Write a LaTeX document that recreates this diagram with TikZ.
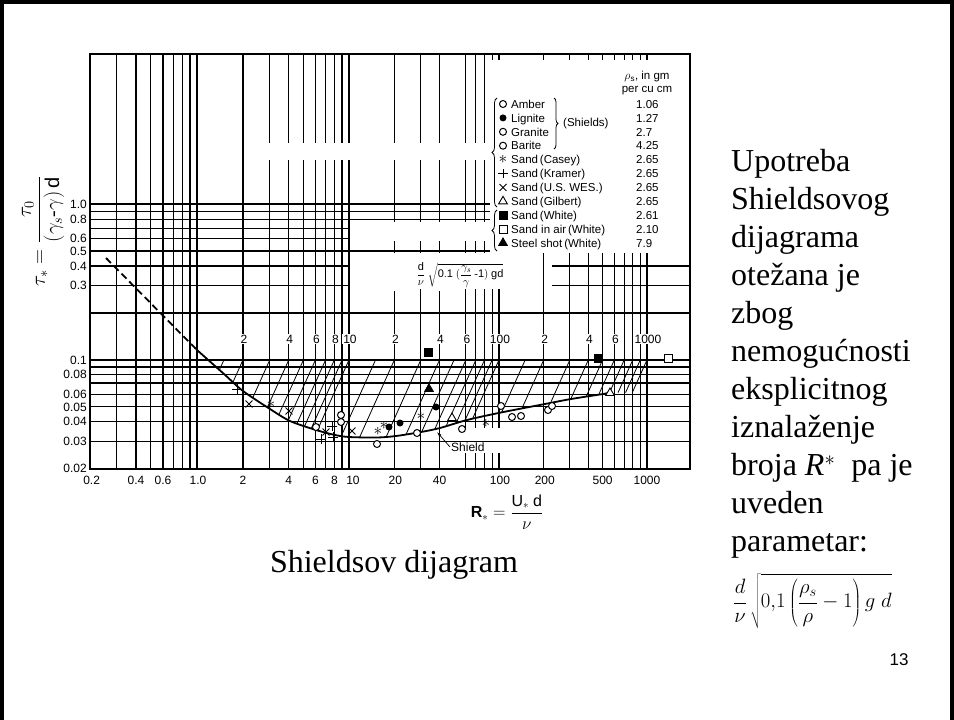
\documentclass[tikz,border=0pt]{standalone}
\usepackage{fontspec}
\setmainfont{Liberation Serif}
\setsansfont{Liberation Sans}
\usetikzlibrary{shapes.geometric,shapes.misc,decorations.pathreplacing,arrows.meta}

%%log scales of the chart, in pixels
\pgfmathdeclarefunction{rx}{1}{\pgfmathparse{197+153*log10(#1)-log10(#1)*log10(#1)}}
\pgfmathdeclarefunction{ty}{1}{\pgfmathparse{204-156*log10(#1)}}

\tikzset{
    gridln/.style={line width=1.2pt},
    hatchln/.style={line width=0.8pt},
    shcurve/.style={line width=1.8pt},
    ticklab/.style={font=\sffamily\fontsize{12}{13}\selectfont, inner sep=1pt},
    leglab/.style={font=\sffamily\fontsize{11.5}{13}\selectfont, inner sep=0pt},
    bodytext/.style={anchor=base west, inner sep=0pt, font=\fontsize{32}{38}\selectfont},
    opn/.style={circle, draw, line width=1pt, fill=white, inner sep=0pt, minimum size=7pt},
    ful/.style={circle, fill, inner sep=0pt, minimum size=7pt},
    crs/.style={cross out, draw, line width=0.9pt, inner sep=0pt, minimum size=6pt},
    pls/.style={crs, rotate=45},
    ast/.style={inner sep=0pt, font=\fontsize{17}{17}\selectfont, execute at begin node=$\ast$},
    tri/.style={regular polygon, regular polygon sides=3, draw, line width=0.9pt, fill=white, inner sep=0pt, minimum size=10pt},
    ftri/.style={tri, fill=black},
    sqr/.style={rectangle, draw, line width=0.9pt, fill=white, inner sep=0pt, minimum size=8pt},
    fsqr/.style={sqr, fill=black}
}

\begin{document}
\begin{tikzpicture}[x=1pt,y=-1pt]
    \useasboundingbox (0,0) rectangle (954,720);
    %%slide border
    \draw[line width=3.5pt] (2,725) to (2,2) to (952,2) to (952,725);

    %%horizontal lines
    \foreach \t in {0.03,0.04,0.05,0.06,0.07,0.08,0.09,0.1,0.2}
        \draw[gridln] (90,{ty(\t)}) to (690,{ty(\t)});
    \foreach \t in {0.3,0.4}{
        \draw[gridln] (90,{ty(\t)}) to (350,{ty(\t)});
        \draw[gridln] (552,{ty(\t)}) to (690,{ty(\t)});
    }
    \foreach \t in {0.5,0.8,0.9,1.0}
        \draw[gridln] (90,{ty(\t)}) to (490,{ty(\t)});
    \foreach \t in {0.6,0.7}
        \draw[gridln] (90,{ty(\t)}) to (348,{ty(\t)});

    %%vertical lines
    \foreach \r in {0.3,0.4,0.5,0.6,0.7,0.8,0.9,1,2}
        \draw[gridln] ({rx(\r)},54) to ({rx(\r)},469);
    \foreach \r in {3,4,5,6,7,8,9,10}{
        \draw[gridln] ({rx(\r)},54) to ({rx(\r)},143);
        \draw[gridln] ({rx(\r)},160) to ({rx(\r)},469);
    }
    \foreach \r in {20,30,40,60,70,80}{
        \draw[gridln] ({rx(\r)},54) to ({rx(\r)},143);
        \draw[gridln] ({rx(\r)},160) to ({rx(\r)},222);
        \draw[gridln] ({rx(\r)},241) to ({rx(\r)},253);
    }
    \foreach \r/\b in {20/291,30/274,40/291}
        \draw[gridln] ({rx(\r)},\b) to ({rx(\r)},469);
    \foreach \r in {60,70,80,90,100}{
        \draw[gridln] ({rx(\r)},280) to ({rx(\r)},428);
        \draw[gridln] ({rx(\r)},453) to ({rx(\r)},469);
    }
    \foreach \r in {90,100,200,300,400,500,600,700,800,900,1000}
        \draw[gridln] ({rx(\r)},54) to ({rx(\r)},60);
    \foreach \r in {200,300,400,500,600,700,800,900,1000}
        \draw[gridln] ({rx(\r)},253) to ({rx(\r)},469);
    \draw[line width=1.5pt] (90,54) rectangle (690,469);

    %%hatching between 0.1 and the curve
    \begin{scope}
        \clip plot[smooth] coordinates {(197,350) (224,374) (243,391) (270,409) (290,421) (316,430) (335,435) (349,437) (377,437.5) (396,436) (421,432) (440,428) (467,420) (501,412.5) (545,404) (571,399) (603,394) (610,392.5)}
            -- (655,392.5) -- (655,{ty(0.1)}) -- (197,{ty(0.1)}) -- cycle;
        \foreach \p in {1.5,2,3,4,5,6,7,8,9,10,15,20,30,40,50,60,70,80,90,100,150,200,300,400,500,600,700,800,900,1000}
            \draw[hatchln] ({rx(\p)},{ty(0.1)}) to ({rx(\p)-45},460);
    \end{scope}

    %%the Shields curve
    \draw[shcurve] plot[smooth] coordinates {(197,350) (224,374) (243,391) (270,409) (290,421) (316,430) (335,435) (349,437) (377,437.5) (396,436) (421,432) (440,428) (467,420) (501,412.5) (545,404) (571,399) (603,394) (610,392.5)};
    \coordinate (dashtop) at (106,258);
    \coordinate (dashend) at (197,350);
    \draw[shcurve, dash pattern=on 7pt off 4pt] (dashtop) to (dashend);

    %%measured points
    \foreach \x/\y/\s [count=\i] in {237/389/pls, 249/404/crs, 271/404/ast, 289/411/crs, 316/427/opn,
        326/432/crs, 332/426/pls, 321/439/pls, 333/437/pls, 341/415/opn, 341/422/opn, 352/431/crs,
        377/444/opn, 378/431/ast, 384/425/ast, 389/427/ful, 400/423/ful, 417/433/opn, 421/416/ast,
        428/352/fsqr, 429/389/ftri, 436/407/ful, 452/418/tri, 462/429/opn, 486/423/ast, 501/406/opn,
        512/417/opn, 521/416/opn, 548/410/opn, 552/406/opn, 598/358/fsqr, 610/393/tri, 668/358/sqr}
        \node[\s] (pt\i) at (\x,\y) {};

    %%Shield label
    \node[ticklab, anchor=west] (shield) at (450,447) {Shield};
    \coordinate (shieldtip) at (437,432);
    \draw[line width=0.7pt, -{Latex[length=5pt,width=3pt]}] (shield.west) to (shieldtip);

    %%axis numbers
    \foreach \t in {0.02,0.03,0.04,0.05,0.06,0.08,0.1,0.3,0.4,0.5,0.6,0.8,1.0}
        \node[ticklab, anchor=east] (ylab\t) at (88,{ty(\t)}) {\t};
    \foreach \r/\d [count=\i] in {0.2/2,0.4/0,0.6/0,1.0/1,2/0,4/0,6/0,8/0,10/4,20/1,40/0,100/1,200/1,500/0,1000/0}
        \node[ticklab] (xlab\i) at ({rx(\r)+\d},480) {\r};
    \foreach \r/\txt [count=\i] in {2/2,4/4,6/6,8/8,10/10,20/2,40/4,60/6,100/100,200/2,400/4,600/6,1000/1000}
        \node[ticklab, fill=white] (plab\i) at ({rx(\r)+1},339) {\txt};

    %%axis titles
    \node[rotate=90, font=\fontsize{20}{21}\selectfont] (ytitle) at (43,231)
        {$\displaystyle\tau_* = \frac{\tau_0}{(\gamma_s\mbox{-}\gamma)\,\mathsf{d}}$};
    \node[font=\fontsize{16}{17}\selectfont] (xtitle) at (507,512)
        {\textsf{\textbf{R}}$_*\displaystyle = \frac{\mathsf{U}_*\ \mathsf{d}}{\nu}$};
    \node[fill=white, inner sep=1pt, font=\fontsize{11}{12}\selectfont] (param) at (460,275)
        {$\displaystyle\frac{\mathsf{d}}{\nu}\ \sqrt{\mathsf{0.1}\ (\frac{\gamma_s}{\gamma}\,\mbox{-}\mathsf{1})\ \mathsf{gd}}$};

    %%legend
    \node[leglab, align=center] (rhohead) at (647,83) {$\rho_{\mathsf{s}}$, in gm\\per cu cm};
    \foreach \s/\txt/\v [count=\i] in {opn/Amber/1.06, ful/Lignite/1.27, opn/Granite/2.7, opn/Barite/4.25,
        ast/Sand\,(Casey)/2.65, pls/Sand\,(Kramer)/2.65, crs/Sand\,(U.S. WES.)/2.65, tri/Sand\,(Gilbert)/2.65,
        fsqr/Sand\,(White)/2.61, sqr/Sand in air\,(White)/2.10, ftri/Steel shot\,(White)/7.9}{
        \node[\s] (sym\i) at (503,{90.1+13.9*\i}) {};
        \node[leglab, anchor=base west] (leg\i) at (511,{94.3+13.9*\i}) {\txt};
        \node[leglab, anchor=base west] (val\i) at (636,{94.3+13.9*\i}) {\v};
    }
    \draw[line width=0.8pt, decorate, decoration={brace, amplitude=5pt}] (497,207) to (497,98);
    \draw[line width=0.8pt, decorate, decoration={brace, amplitude=5pt}] (497,251) to (497,210);
    \draw[line width=0.8pt, decorate, decoration={brace, amplitude=4pt}] (554,98) to (554,149);
    \node[leglab, anchor=west] (shields) at (563,124) {(Shields)};

    %%captions and slide text
    \node[font=\fontsize{32}{38}\selectfont, anchor=base, inner sep=0pt] (caption) at (394,572) {Shieldsov dijagram};
    \foreach \txt [count=\i] in {Upotreba, Shieldsovog, dijagrama, otežana je, zbog, nemogućnosti,
        eksplicitnog, iznalaženje, {broja \textit{R}$^*$\ \ pa je}, uveden, parametar:}
        \node[bodytext] (line\i) at (731,{133+38*\i}) {\txt};
    \node[anchor=west, inner sep=0pt, font=\fontsize{21}{23}\selectfont] (formula) at (733,601)
        {$\displaystyle\frac{d}{\nu}\,\sqrt{0{,}1\left(\frac{\rho_s}{\rho}-1\right)g\;d}$};
    \node[font=\sffamily\fontsize{17}{18}\selectfont] (pagenum) at (899,660) {13};
\end{tikzpicture}
\end{document}
